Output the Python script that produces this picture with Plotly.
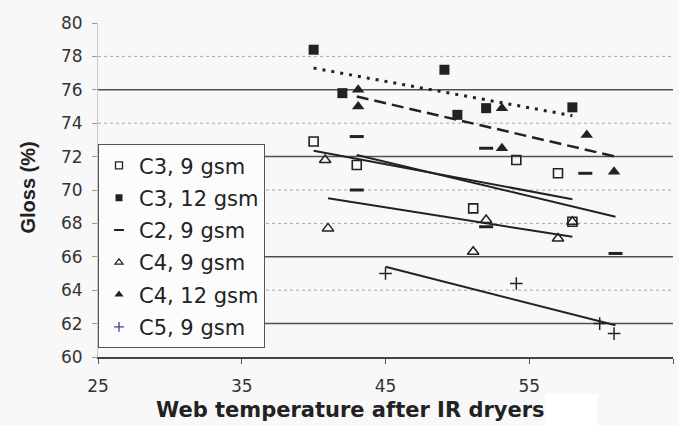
import plotly.graph_objects as go

# ---------------- data ----------------
c3_9_x = [40.0, 43.0, 51.1, 54.1, 57.0, 58.0]
c3_9_y = [72.9, 71.5, 68.9, 71.8, 71.0, 68.1]
c3_12_x = [40.0, 42.0, 49.1, 50.0, 52.0, 58.0]
c3_12_y = [78.4, 75.8, 77.2, 74.5, 74.9, 74.95]
c2_9_x = [43.0, 43.0, 52.0, 52.0, 58.9, 61.0]
c2_9_y = [73.2, 70.0, 72.5, 67.8, 71.0, 66.2]
c4_9_x = [40.8, 41.0, 51.1, 52.0, 57.0, 58.0]
c4_9_y = [71.8, 67.7, 66.3, 68.2, 67.1, 68.1]
c4_12_x = [43.1, 43.1, 53.1, 53.1, 59.0, 60.9]
c4_12_y = [76.0, 75.0, 74.9, 72.5, 73.3, 71.1]
c5_9_x = [45.0, 54.1, 59.9, 60.9]
c5_9_y = [65.0, 64.4, 62.0, 61.4]

# linear trend lines (end points)
trend_c3_9_x = [40.0, 58.0]
trend_c3_9_y = [72.35, 69.45]
trend_c3_12_x = [40.0, 58.0]
trend_c3_12_y = [77.3, 74.45]
trend_c2_9_x = [43.0, 61.0]
trend_c2_9_y = [72.1, 68.4]
trend_c4_9_x = [41.0, 58.0]
trend_c4_9_y = [69.5, 67.2]
trend_c4_12_x = [43.0, 61.0]
trend_c4_12_y = [75.6, 72.0]
trend_c5_9_x = [45.0, 61.0]
trend_c5_9_y = [65.4, 61.9]

series_names = ["C3, 9 gsm", "C3, 12 gsm", "C2, 9 gsm", "C4, 9 gsm", "C4, 12 gsm", "C5, 9 gsm"]
x_ticks = [25, 35, 45, 55, 65]
y_ticks = [60, 62, 64, 66, 68, 70, 72, 74, 76, 78, 80]
dark_grid = [62, 66, 72, 76]
light_grid = [64, 68, 70, 74, 78]

INK = "#222222"

fig = go.Figure()

# trend lines
trend_specs = [
    (trend_c3_9_x, trend_c3_9_y, "solid", 2),
    (trend_c3_12_x, trend_c3_12_y, "3px,6px", 3),
    (trend_c2_9_x, trend_c2_9_y, "solid", 2),
    (trend_c4_9_x, trend_c4_9_y, "solid", 2),
    (trend_c4_12_x, trend_c4_12_y, "12px,6px", 2.5),
    (trend_c5_9_x, trend_c5_9_y, "solid", 2),
]
for tx, ty, dash, w in trend_specs:
    fig.add_trace(go.Scatter(x=tx, y=ty, mode="lines", showlegend=False,
                             line=dict(color=INK, width=w, dash=dash),
                             hoverinfo="skip"))

marker_specs = [
    (c3_9_x, c3_9_y, dict(symbol="square-open", size=9, color=INK, line=dict(width=1.6, color=INK))),
    (c3_12_x, c3_12_y, dict(symbol="square", size=10, color=INK, line=dict(width=0))),
    (c2_9_x, c2_9_y, dict(symbol="line-ew", size=10, color=INK, line=dict(width=3, color=INK))),
    (c4_9_x, c4_9_y, dict(symbol="triangle-up-open", size=10, color=INK, line=dict(width=1.5, color=INK))),
    (c4_12_x, c4_12_y, dict(symbol="triangle-up", size=11, color=INK, line=dict(width=0))),
    (c5_9_x, c5_9_y, dict(symbol="cross-thin", size=9, color=INK, line=dict(width=1.5, color=INK))),
]
legend_markers = [
    dict(symbol="square-open", size=7, color=INK, line=dict(width=1.3, color=INK)),
    dict(symbol="square", size=7, color=INK, line=dict(width=0)),
    dict(symbol="line-ew", size=7, color=INK, line=dict(width=2.2, color=INK)),
    dict(symbol="triangle-up-open", size=7, color=INK, line=dict(width=1.2, color=INK)),
    dict(symbol="triangle-up", size=8, color=INK, line=dict(width=0)),
    dict(symbol="cross-thin", size=7, color="#4040a0", line=dict(width=1.3, color="#4040a0")),
]

for i, (mx, my, mk) in enumerate(marker_specs):
    fig.add_trace(go.Scatter(x=mx, y=my, mode="markers", marker=mk,
                             name=series_names[i], showlegend=False,
                             legendgroup=series_names[i]))
    fig.add_trace(go.Scatter(x=[None], y=[None], mode="markers",
                             marker=legend_markers[i], name=series_names[i],
                             showlegend=True, legendgroup=series_names[i]))

shapes = []
for g in light_grid:
    shapes.append(dict(type="line", xref="paper", x0=0, x1=1, yref="y", y0=g, y1=g,
                       line=dict(color="#a8a8a8", width=1, dash="dot"), layer="below"))
for g in dark_grid:
    shapes.append(dict(type="line", xref="paper", x0=0, x1=1, yref="y", y0=g, y1=g,
                       line=dict(color="#505050", width=1.5), layer="below"))
# white patch below the x axis title (as in the scan)
shapes.append(dict(type="rect", xref="paper", yref="paper", x0=0.777, x1=0.868,
                   y0=-0.2036, y1=-0.111, fillcolor="#ffffff", line=dict(width=0)))

fig.update_layout(
    width=679, height=425,
    margin=dict(l=98, r=6, t=23, b=68),
    paper_bgcolor="#f8f8f8", plot_bgcolor="#f8f8f8",
    font=dict(family="DejaVu Sans", color=INK),
    shapes=shapes,
    showlegend=True,
    legend=dict(x=0, y=0.637, xanchor="left", yanchor="top",
                bgcolor="#fcfcfc", bordercolor="#555555", borderwidth=1,
                font=dict(family="DejaVu Sans", size=21, color=INK),
                tracegroupgap=2, traceorder="grouped", itemwidth=30),
    xaxis=dict(range=[25, 65], tickmode="array", tickvals=x_ticks,
               showgrid=False, zeroline=False, showline=True,
               linecolor="#444444", linewidth=1.5,
               ticks="outside", ticklen=5, tickcolor="#555555",
               tickfont=dict(family="DejaVu Sans", size=17, color="#333333"),
               ticklabelstandoff=8),
    yaxis=dict(range=[60, 80], tickmode="array", tickvals=y_ticks,
               showgrid=False, zeroline=False, showline=True,
               linecolor="#c8c8c8", linewidth=1,
               ticks="outside", ticklen=5, tickcolor="#999999",
               tickfont=dict(family="DejaVu Sans", size=17, color="#333333"),
               ticklabelstandoff=6),
    annotations=[
        dict(text="Web temperature after IR dryers", xref="paper", yref="paper",
             x=0.4383, y=-0.1587, xanchor="center", yanchor="middle", showarrow=False,
             font=dict(family="DejaVu Sans", size=21, color=INK, weight="bold")),
        dict(text="Gloss (%)", xref="paper", yref="paper", textangle=-90,
             x=-0.1217, y=0.5075, xanchor="center", yanchor="middle", showarrow=False,
             font=dict(family="Liberation Sans", size=20, color=INK, weight="bold")),
    ],
)

fig.write_html("out.html")
